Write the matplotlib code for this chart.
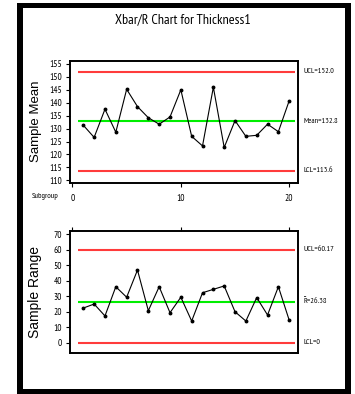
import matplotlib
matplotlib.use("Agg")
import matplotlib.pyplot as plt
import matplotlib.transforms as mtransforms
from matplotlib.patches import Rectangle
from matplotlib import font_manager as fm

# ---------------- data ----------------
subgroups = list(range(1, 21))
sample_mean = [131.3, 126.6, 137.5, 128.6, 145.2, 138.5, 134.2, 131.7, 134.5, 145.0,
               127.0, 123.3, 146.0, 122.7, 133.1, 127.0, 127.4, 131.7, 128.8, 140.8]
sample_range = [22.4, 25.0, 17.3, 36.2, 29.4, 47.0, 20.7, 36.2, 19.4, 29.4,
                14.0, 32.3, 34.5, 36.7, 20.0, 14.0, 29.2, 17.9, 36.2, 14.5]
mean_limits = {"UCL": 152.0, "Mean": 132.8, "LCL": 113.6}
range_limits = {"UCL": 60.17, "R": 26.38, "LCL": 0.0}
mean_labels = ["UCL=152.0", "Mean=132.8", "LCL=113.6"]
range_labels = ["UCL=60.17", "R\u0304=26.38", "LCL=0"]
mean_yticks = [110, 115, 120, 125, 130, 135, 140, 145, 150, 155]
range_yticks = [0, 10, 20, 30, 40, 50, 60, 70]
xticks = [0, 10, 20]
title = "Xbar/R Chart for Thickness1"


# ---------------- fonts ----------------
def find_narrow():
    best, best_score = None, -1
    for f in fm.fontManager.ttflist:
        name = f.name
        fn = f.fname.lower()
        score = 0
        if "narrow" in name.lower() or "narrow" in fn:
            score = 50
        elif "condensed" in name.lower() or "condensed" in fn or str(f.stretch) in ("condensed", "semi-condensed", "extra-condensed"):
            score = 30
            if "semi" in fn or "semi" in name.lower():
                score -= 5
            if "extra" in fn or "extra" in name.lower():
                score -= 3
        else:
            continue
        if "sans" in name.lower():
            score += 10
        if "mono" in name.lower() or ("serif" in name.lower() and "sans" not in name.lower()):
            score -= 20
        if f.style != "normal":
            score -= 15
        if any(k in fn for k in ("bold", "italic", "light", "thin", "black", "medium")):
            score -= 15
        if score > best_score:
            best, best_score = f, score
    if best is None:
        return fm.FontProperties(family=["Liberation Sans", "DejaVu Sans"])
    return fm.FontProperties(family=[best.name, "DejaVu Sans"],
                             stretch=best.stretch, weight=best.weight,
                             style=best.style)


NARROW_FP = find_narrow()
REG_FP = fm.FontProperties(family=["Liberation Sans", "DejaVu Sans"])

W, H = 355, 394
fig = plt.figure(figsize=(W / 100, H / 100), dpi=100)
fig.patch.set_facecolor("white")

# outer black frame
fig.patches.append(Rectangle((17.3 / W, 0), (350.7 - 17.3) / W, 1 - 3.3 / H,
                             transform=fig.transFigure, facecolor="black",
                             edgecolor="none", zorder=-2))
fig.patches.append(Rectangle((23.3 / W, 1 - 389.3 / H), (345 - 23.3) / W,
                             (389.3 - 8.3) / H, transform=fig.transFigure,
                             facecolor="white", edgecolor="none", zorder=-1))

ax_left = 70 / W
ax_w = (298 - 70) / W
ax1 = fig.add_axes([ax_left, 1 - 182.5 / H, ax_w, (182.5 - 61) / H])
ax2 = fig.add_axes([ax_left, 1 - 353 / H, ax_w, (353 - 231) / H])

RED = "#ff3b3b"
GREEN = "#00ee00"

renderer = fig.canvas.get_renderer()


def fit_width(t, target, vertical=False):
    bb = t.get_window_extent(renderer)
    cur = bb.height if vertical else bb.width
    if cur > 0:
        t.set_fontsize(t.get_fontsize() * target / cur)
    return t.get_fontsize()


# measure tick label size with the narrow font
probe = fig.text(0, 0, "155", fontproperties=NARROW_FP, fontsize=7)
tick_fs = fit_width(probe, 12.7)
probe.remove()

right_texts = []


def style(ax, ylim, yticks, ylabel, label_len):
    ax.set_facecolor("white")
    ax.set_xlim(-0.227, 20.81)
    ax.set_ylim(*ylim)
    ax.set_yticks(yticks)
    ax.set_xticks(xticks)
    for s in ax.spines.values():
        s.set_linewidth(1.4)
        s.set_color("black")
    ax.tick_params(axis="y", direction="out", length=3, width=0.8, pad=2.6,
                   labelsize=tick_fs)
    for lab in ax.get_yticklabels():
        lab.set_fontproperties(NARROW_FP)
        lab.set_fontsize(tick_fs)
    yl = ax.set_ylabel(ylabel, fontproperties=REG_FP, fontsize=9.6)
    fit_width(yl, label_len, vertical=True)
    ax.yaxis.set_label_coords(-0.123, 0.5)


def draw(ax, values, limits, labels, colors):
    keys = list(limits.keys())
    for k, c in zip(keys, colors):
        ax.hlines(limits[k], 0.5, 20.5, color=c, linewidth=1.5, zorder=2)
    ax.plot(subgroups, values, color="black", linewidth=0.8, marker="o",
            markersize=1.8, zorder=3)
    tr = mtransforms.blended_transform_factory(ax.transAxes, ax.transData)
    for k, lab in zip(keys, labels):
        t = ax.text(1.023, limits[k], lab, transform=tr, ha="left", va="center",
                    fontproperties=NARROW_FP, fontsize=6.3, clip_on=False)
        right_texts.append(t)


style(ax1, (109.15, 156.14), mean_yticks, "Sample Mean", 82)
draw(ax1, sample_mean, mean_limits, mean_labels, [RED, GREEN, RED])
ax1.tick_params(axis="x", direction="out", length=3, width=0.8, pad=5,
                labelsize=tick_fs, bottom=True, top=False)
for lab in ax1.get_xticklabels():
    lab.set_fontproperties(NARROW_FP)
    lab.set_fontsize(tick_fs)

style(ax2, (-6.68, 72.25), range_yticks, "Sample Range", 92)
draw(ax2, sample_range, range_limits, range_labels, [RED, GREEN, RED])
ax2.tick_params(axis="x", direction="out", length=3, width=0.8,
                bottom=False, top=True, labelbottom=False, labeltop=False)

# right-hand limit labels share one size fitted to "UCL=152.0"
lab_fs = fit_width(right_texts[0], 30.7)
for t in right_texts:
    t.set_fontsize(lab_fs)

sub = fig.text(31.7 / W, 1 - 196.7 / H, "Subgroup", ha="left", va="center",
               fontproperties=NARROW_FP, fontsize=6.3)
fit_width(sub, 27.6)
ttl = fig.text(182.5 / W, 1 - 20 / H, title, ha="center", va="center",
               fontproperties=NARROW_FP, fontsize=9.6)
fit_width(ttl, 135)

fig.savefig("out.png", dpi=100)
